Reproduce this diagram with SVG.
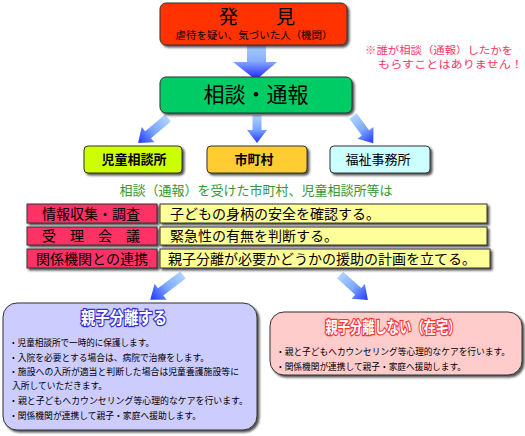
<svg xmlns="http://www.w3.org/2000/svg" width="525" height="436" viewBox="0 0 525 436">
<defs>
<filter id="sh" x="-10%" y="-20%" width="130%" height="160%"><feDropShadow dx="2" dy="2" stdDeviation="0.8" flood-color="#333" flood-opacity="0.85"/></filter>
<linearGradient id="ag" x1="0" y1="0" x2="0" y2="1"><stop offset="0" stop-color="#b0d4ff"/><stop offset="0.5" stop-color="#7aa8ff"/><stop offset="1" stop-color="#2233ff"/></linearGradient>
<linearGradient id="bg" x1="0" y1="0" x2="0" y2="1"><stop offset="0" stop-color="#a8ccff"/><stop offset="0.45" stop-color="#88b0ff"/><stop offset="1" stop-color="#1a1aff"/></linearGradient>
<style>
text{font-family:"Noto Sans CJK JP","Noto Sans CJK SC",sans-serif;fill:#000}
.box{stroke:#333;stroke-width:1;filter:url(#sh)}
.arr{fill:url(#ag);stroke:none}
.c{text-anchor:middle}
.row{font-size:14px}
.body{font-size:9.2px}
</style>
</defs>

<g id="connectors">
<path d="M247 45 H266 V62 H277 L256 80 L233 62 H247 Z" fill="url(#bg)"/>
<path class="arr" transform="translate(168,118) rotate(50)" d="M-4.5 0 H4.5 V26 H10 L0 39 L-10 26 H-4.5 Z"/>
<path class="arr" transform="translate(257,115)" d="M-4.5 0 H4.5 V15 H10 L0 28 L-10 15 H-4.5 Z"/>
<path class="arr" transform="translate(353,116) rotate(-36.5)" d="M-4.5 0 H4.5 V21 H10 L0 34 L-10 21 H-4.5 Z"/>
<path class="arr" transform="translate(183,275) rotate(53)" d="M-4.5 0 H4.5 V28 H10 L0 41 L-10 28 H-4.5 Z"/>
<path class="arr" transform="translate(340,275) rotate(-48)" d="M-4.5 0 H4.5 V24.5 H10 L0 37.5 L-10 24.5 H-4.5 Z"/>
</g>

<g id="hakken">
<rect class="box" x="160" y="3" width="187" height="42" rx="6" fill="#ff3300"/>
<text class="c" x="257" y="24" font-size="19">発　　見</text>
<text class="c" x="254" y="39" font-size="10" textLength="157" lengthAdjust="spacingAndGlyphs">虐待を疑い、気づいた人（機関）</text>
</g>

<g id="note">
<text x="365" y="54" font-size="10" style="fill:#ff3366" textLength="148" lengthAdjust="spacingAndGlyphs">※誰が相談（通報）したかを</text>
<text x="378" y="68" font-size="10" style="fill:#ff3366" textLength="145" lengthAdjust="spacingAndGlyphs">もらすことはありません！</text>
</g>

<g id="soudan">
<rect class="box" x="160" y="77" width="192" height="36" rx="6" fill="#00cc66"/>
<text class="c" x="256" y="102" font-size="21">相談・通報</text>
</g>

<g id="jidou">
<rect class="box" x="84" y="146" width="98" height="27" rx="4" fill="#ccff00"/>
<text class="c" x="134" y="164" font-size="13" font-weight="bold">児童相談所</text>
</g>
<g id="shichouson">
<rect class="box" x="207" y="146" width="100" height="27" rx="4" fill="#ffcc33"/>
<text class="c" x="254" y="164" font-size="13" font-weight="bold">市町村</text>
</g>
<g id="fukushi">
<rect class="box" x="330" y="146" width="100" height="27" rx="4" fill="#ccffff"/>
<text class="c" x="378" y="164" font-size="13">福祉事務所</text>
</g>

<g id="caption">
<text class="c" x="256" y="195" font-size="13" style="fill:#339933">相談（通報）を受けた市町村、児童相談所等は</text>
</g>

<g id="row1">
<rect class="box" x="27" y="204" width="130" height="19" fill="#ff3366"/>
<text class="row c" x="91" y="219">情報収集・調査</text>
<rect class="box" x="160" y="204" width="327" height="19" fill="#ffff99"/>
<text class="row" x="170" y="219">子どもの身柄の安全を確認する。</text>
</g>
<g id="row2">
<rect class="box" x="27" y="227" width="130" height="18" fill="#ff3366"/>
<text class="row c" x="91" y="241">受　理　会　議</text>
<rect class="box" x="160" y="227" width="327" height="18" fill="#ffff99"/>
<text class="row" x="170" y="241">緊急性の有無を判断する。</text>
</g>
<g id="row3">
<rect class="box" x="27" y="249" width="130" height="19" fill="#ff3366"/>
<text class="row c" x="92" y="264">関係機関との連携</text>
<rect class="box" x="160" y="249" width="330" height="19" fill="#ffff99"/>
<text class="row" x="168" y="264">親子分離が必要かどうかの援助の計画を立てる。</text>
</g>

<g id="bunri">
<rect class="box" x="3" y="303" width="254" height="127" rx="14" fill="#ccccff"/>
<text class="c" x="124" y="324" font-size="17" font-weight="bold" style="fill:#fff" stroke="#3333cc" stroke-width="2.5" paint-order="stroke" textLength="86" lengthAdjust="spacingAndGlyphs">親子分離する</text>
<text class="body" x="9" y="346" textLength="145" lengthAdjust="spacingAndGlyphs">・児童相談所で一時的に保護します。</text>
<text class="body" x="9" y="361" textLength="200" lengthAdjust="spacingAndGlyphs">・入院を必要とする場合は、病院で治療をします。</text>
<text class="body" x="9" y="375" textLength="230" lengthAdjust="spacingAndGlyphs">・施設への入所が適当と判断した場合は児童養護施設等に</text>
<text class="body" x="12" y="389" textLength="95" lengthAdjust="spacingAndGlyphs">入所していただきます。</text>
<text class="body" x="9" y="404" textLength="239" lengthAdjust="spacingAndGlyphs">・親と子どもへカウンセリング等心理的なケアを行います。</text>
<text class="body" x="9" y="419" textLength="192" lengthAdjust="spacingAndGlyphs">・関係機関が連携して親子・家庭へ援助します。</text>
</g>

<g id="zaitaku">
<rect class="box" x="270" y="312" width="252" height="63" rx="14" fill="#ffcccc"/>
<text class="c" x="393" y="333" font-size="16" font-weight="bold" style="fill:#fff" stroke="#ff3333" stroke-width="2.5" paint-order="stroke" textLength="135" lengthAdjust="spacingAndGlyphs">親子分離しない（在宅）</text>
<text class="body" x="276" y="355" textLength="234" lengthAdjust="spacingAndGlyphs">・親と子どもへカウンセリング等心理的なケアを行います。</text>
<text class="body" x="276" y="370" textLength="190" lengthAdjust="spacingAndGlyphs">・関係機関が連携して親子・家庭へ援助します。</text>
</g>
</svg>
